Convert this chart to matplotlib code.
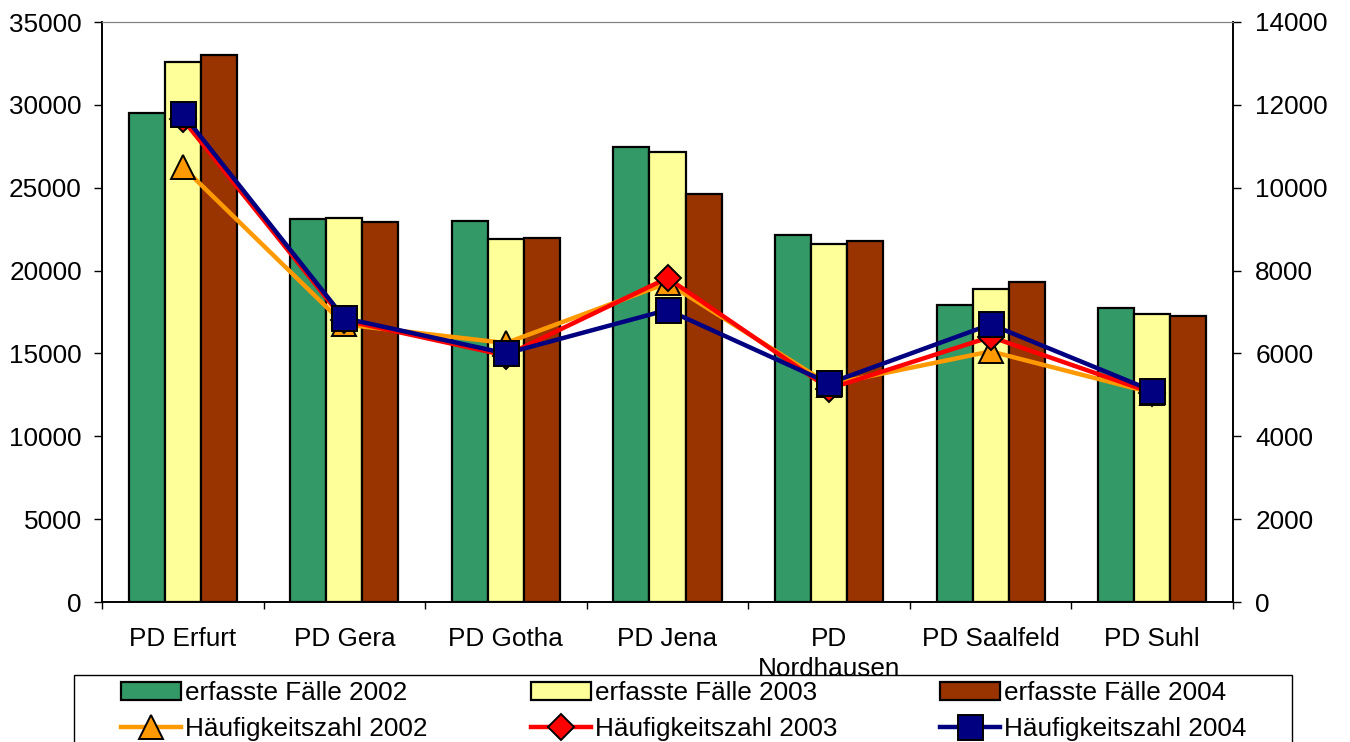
import numpy as np
import matplotlib
matplotlib.use("Agg")
import matplotlib.pyplot as plt
from matplotlib.patches import Rectangle

plt.rcParams['font.family'] = ['Liberation Sans', 'DejaVu Sans']

# Data
categories = ["PD Erfurt", "PD Gera", "PD Gotha", "PD Jena",
              "PD\nNordhausen", "PD Saalfeld", "PD Suhl"]
faelle_2002 = [29500, 23100, 23000, 27450, 22150, 17950, 17750]
faelle_2003 = [32600, 23200, 21900, 27150, 21600, 18900, 17350]
faelle_2004 = [33000, 22950, 21950, 24600, 21800, 19300, 17250]
hz_2002 = [10500, 6700, 6250, 7700, 5250, 6050, 5050]
hz_2003 = [11650, 6800, 5950, 7820, 5150, 6400, 5050]
hz_2004 = [11780, 6850, 6000, 7050, 5280, 6700, 5100]

bar_labels = ["erfasste Fälle 2002", "erfasste Fälle 2003", "erfasste Fälle 2004"]
line_labels = ["Häufigkeitszahl 2002", "Häufigkeitszahl 2003", "Häufigkeitszahl 2004"]
bar_colors = ["#339966", "#FFFF99", "#993300"]
line_colors = ["#FF9900", "#FF0000", "#000080"]

W, H = 1350, 742
FS = 18.8

fig = plt.figure(figsize=(W / 100, H / 100), dpi=100)
ax = fig.add_axes([102 / W, 1 - 602 / H, (1233 - 102) / W, 580 / H])
ax2 = ax.twinx()

x = np.arange(len(categories))
w = 0.223
bars = []
for i, vals in enumerate([faelle_2002, faelle_2003, faelle_2004]):
    b = ax.bar(x + (i - 1) * w, vals, w, color=bar_colors[i], edgecolor="black",
               linewidth=1.6, label=bar_labels[i])
    bars.append(b)

markers = ["^", "D", "s"]
msizes = [17, 13, 18]
lines = []
for i, vals in enumerate([hz_2002, hz_2003, hz_2004]):
    l, = ax2.plot(x, vals, color=line_colors[i], linewidth=3.2, marker=markers[i],
                  markersize=msizes[i], markerfacecolor=line_colors[i],
                  markeredgecolor="black", markeredgewidth=1.4, label=line_labels[i])
    lines.append(l)

ax.set_xlim(-0.5, len(categories) - 0.5)
ax.set_ylim(0, 35000)
ax.set_yticks(np.arange(0, 35001, 5000))
ax2.set_ylim(0, 14000)
ax2.set_yticks(np.arange(0, 14001, 2000))

# ticks at category boundaries, labels at centres
ax.set_xticks(np.arange(-0.5, len(categories), 1.0))
ax.set_xticklabels([])
ax.set_xticks(x, minor=True)
ax.set_xticklabels(categories, minor=True, fontsize=FS, linespacing=1.3)
ax.tick_params(axis="x", which="minor", length=0, pad=18)
ax.tick_params(axis="x", which="major", length=5, width=1, direction="out")
ax.tick_params(axis="y", length=6, width=1, direction="out", labelsize=FS, pad=8.5)
ax2.tick_params(axis="y", length=6, width=1, direction="out", labelsize=FS, pad=10)

for a in (ax, ax2):
    a.spines["top"].set_color("#808080")
    a.spines["left"].set_linewidth(1.2)
    a.spines["right"].set_linewidth(1.2)
    a.spines["bottom"].set_linewidth(1.2)

# legend frame (runs off the bottom of the picture)
frame = Rectangle((74 / W, -0.2), (1292 - 74) / W, 0.2 + 1 - 675 / H,
                  transform=fig.transFigure, facecolor="white", edgecolor="black",
                  linewidth=1.0, zorder=3)
fig.patches.append(frame)

handles = [bars[0], lines[0], bars[1], lines[1], bars[2], lines[2]]
labels = [h.get_label() for h in handles]
leg = fig.legend(handles, labels, loc="upper left",
                 bbox_to_anchor=(121 / W, 1 - 681 / H), ncol=3, fontsize=FS,
                 frameon=False, handlelength=2.3, handletextpad=0.15,
                 columnspacing=3.95, numpoints=1, borderpad=0, borderaxespad=0,
                 labelspacing=0.45, markerscale=1.0)
leg.set_zorder(4)

fig.savefig("out.png", dpi=100)
